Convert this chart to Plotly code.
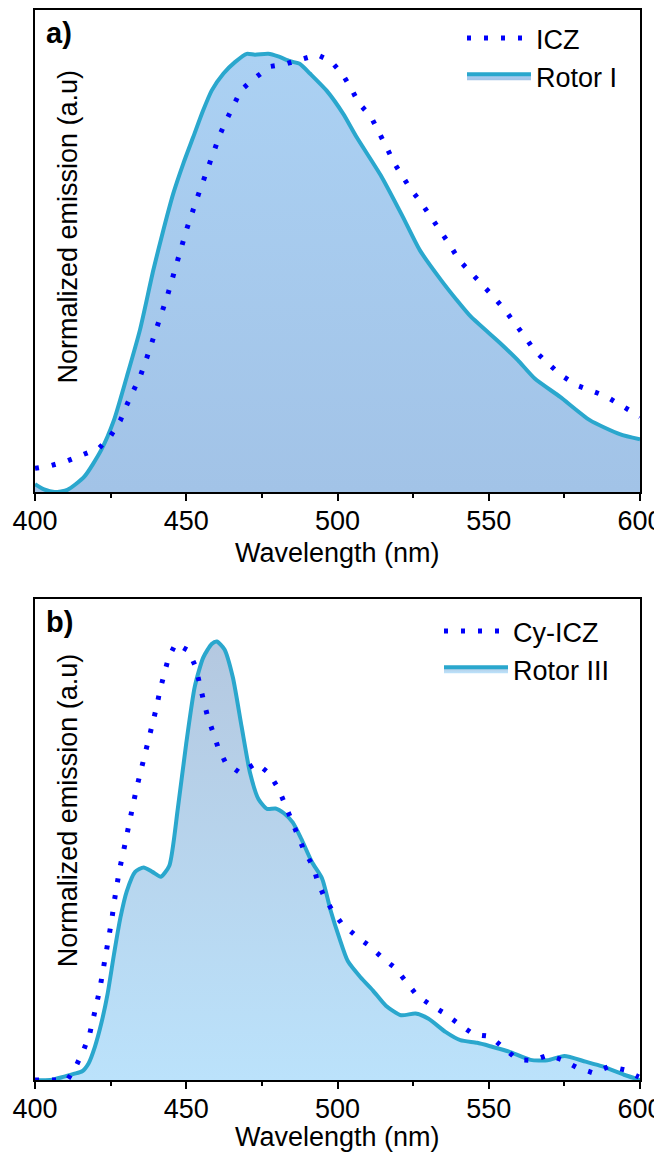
import plotly.graph_objects as go

# ---------------- data ----------------
wl_rotor1 = [400, 403, 406.5, 410.7, 416.3, 421.9, 426.1, 430.3, 434.7, 439.1, 442.4, 445.7, 449.0,
             452.3, 455.6, 458.4, 462.3, 466.1, 470.0, 472.7, 477.1, 480.4, 484.3, 487.6, 490.9,
             496.4, 501.9, 506.3, 514.6, 521.6, 527.2, 534.3, 539.2, 544.1, 553.9, 559.6, 565.2,
             573.6, 583.4, 593.3, 600]
em_rotor1 = [0.018, 0.006, 0.0, 0.005, 0.035, 0.096, 0.164, 0.262, 0.37, 0.506, 0.597, 0.681, 0.749,
             0.81, 0.871, 0.916, 0.955, 0.981, 1.0, 0.998, 1.0, 0.994, 0.983, 0.977, 0.955,
             0.916, 0.863, 0.81, 0.719, 0.628, 0.552, 0.483, 0.44, 0.40, 0.339, 0.301, 0.259,
             0.217, 0.164, 0.132, 0.12]

wl_icz = [400, 405.1, 410.7, 416.3, 421.2, 425, 428.2, 430.3, 432.7, 435, 436.9, 438.8, 440.4, 443.9,
          446.8, 450.1, 453.7, 457.3, 461.2, 463.5, 465.9, 468.1, 472.2, 477.7, 482.9, 487.9, 493.3,
          497.9, 501.7, 504.5, 507.0, 511.1, 513.9, 516.4, 518.8, 521.3, 524.2, 527.7, 531, 534.3,
          537.4, 540.2, 544.1, 548, 551.4, 555.6, 558.8, 562.4, 565.2, 569.4, 573.6, 578.9, 584.1,
          588.6, 593.7, 598.9, 600]
em_icz = [0.054, 0.06, 0.071, 0.087, 0.10, 0.128, 0.163, 0.198, 0.234, 0.268, 0.305, 0.341, 0.378, 0.451,
          0.525, 0.599, 0.673, 0.746, 0.817, 0.852, 0.888, 0.917, 0.942, 0.971, 0.977, 0.987, 0.998,
          0.983, 0.953, 0.921, 0.888, 0.856, 0.82, 0.784, 0.75, 0.721, 0.691, 0.66, 0.626, 0.596,
          0.561, 0.529, 0.501, 0.472, 0.447, 0.413, 0.385, 0.35, 0.322, 0.296, 0.268, 0.244, 0.231,
          0.219, 0.198, 0.176, 0.172]

wl_rotor3 = [400, 405.1, 409.3, 412.8, 415.6, 417.7, 419.8, 421.9, 424, 426.1, 428.2, 430.3, 433.1,
             435.9, 438.8, 441.6, 444.4, 447.2, 450, 452.8, 455.6, 458.4, 460.1, 462.6, 465.4, 468.3,
             471.1, 473.9, 476.7, 479.5, 482.3, 485.2, 488, 491.5, 494.9, 497.8, 500.6, 503.4, 507.6,
             511.8, 516, 521, 525.8, 530.1, 535.7, 540.6, 546.2, 551.1, 556.7, 563.8, 569.4, 575,
             582, 587.6, 594.7, 600]
em_rotor3 = [0.0, 0.0, 0.007, 0.014, 0.02, 0.038, 0.076, 0.129, 0.197, 0.287, 0.37, 0.431, 0.476,
             0.486, 0.476, 0.465, 0.49, 0.62, 0.77, 0.899, 0.966, 0.997, 1.003, 0.985, 0.921, 0.808,
             0.702, 0.642, 0.62, 0.621, 0.61, 0.589, 0.552, 0.499, 0.461, 0.386, 0.325, 0.272, 0.235,
             0.204, 0.17, 0.148, 0.152, 0.14, 0.11, 0.091, 0.085, 0.076, 0.065, 0.046, 0.045, 0.055,
             0.042, 0.031, 0.012, 0.0]

wl_cyicz = [400, 410.7, 413.5, 416, 418, 419.4, 420.5, 421.6, 422.6, 423.6, 424.4, 425.4, 426.1, 426.9,
            427.9, 429.1, 430.1, 431.3, 432.4, 433.6, 435, 436.2, 437.6, 438.8, 440.2, 441.3, 442.7,
            444.1, 446.5, 450.7, 453.1, 454.2, 455.6, 457, 458.7, 460.5, 462.9, 467.8, 473.2, 477.4,
            480.5, 482.6, 484.8, 486.8, 489, 491.9, 493.5, 495.6, 498.4, 501.5, 506.2, 510.7, 514.9,
            519.1, 522.6, 526.3, 531.2, 535.7, 540.3, 545.1, 550.4, 554.6, 559.6, 564.5, 569.7, 574.4,
            579, 584.6, 589.8, 595, 599.6]
em_cyicz = [0.0, 0.0, 0.031, 0.067, 0.103, 0.14, 0.178, 0.215, 0.253, 0.29, 0.329, 0.367, 0.404, 0.442,
            0.48, 0.518, 0.555, 0.592, 0.629, 0.668, 0.706, 0.742, 0.779, 0.817, 0.853, 0.891, 0.929,
            0.965, 0.998, 0.982, 0.945, 0.908, 0.871, 0.833, 0.797, 0.761, 0.727, 0.702, 0.725, 0.701,
            0.666, 0.631, 0.597, 0.559, 0.524, 0.489, 0.453, 0.419, 0.386, 0.357, 0.329, 0.306, 0.279,
            0.256, 0.226, 0.193, 0.17, 0.151, 0.127, 0.104, 0.1, 0.076, 0.046, 0.045, 0.057, 0.046,
            0.029, 0.016, 0.031, 0.023, 0.007]

x_ticks = [400, 450, 500, 550, 600]
x_tick_labels = ["400", "450", "500", "550", "600"]
x_title = "Wavelength (nm)"
y_title = "Normalized emission (a.u)"

# ---------------- styles ----------------
FONT = "Liberation Sans, Arial, sans-serif"
LINE_C = "rgb(42,167,205)"
DOT_C = "rgb(0,0,250)"
FS = 27

# page has an 8px body margin; keep the figure inside the window (no scrollbars)
OFF = 8
W, H = 662 - OFF, 1160 - 2 * OFF


def px(xp):
    return (xp - OFF) / W


def py(yp):
    return 1 - (yp - OFF) / H


fig = go.Figure()

# Panel a
fig.add_trace(go.Scatter(
    x=wl_rotor1, y=em_rotor1, name="Rotor I", mode="lines",
    line=dict(color=LINE_C, width=4, shape="spline", smoothing=0.6),
    fill="tozeroy",
    fillgradient=dict(type="vertical",
                      colorscale=[[0, "rgb(162,195,231)"], [1, "rgb(171,209,243)"]]),
    xaxis="x", yaxis="y", legend="legend"))
fig.add_trace(go.Scatter(
    x=wl_icz, y=em_icz, name="ICZ", mode="lines",
    line=dict(color=DOT_C, width=5, dash="4px,13px"),
    xaxis="x", yaxis="y", legend="legend"))

# Panel b
fig.add_trace(go.Scatter(
    x=wl_rotor3, y=em_rotor3, name="Rotor III", mode="lines",
    line=dict(color=LINE_C, width=4, shape="spline", smoothing=0.6),
    fill="tozeroy",
    fillgradient=dict(type="vertical",
                      colorscale=[[0, "rgb(187,226,251)"], [1, "rgb(180,200,224)"]]),
    xaxis="x2", yaxis="y2", legend="legend2"))
fig.add_trace(go.Scatter(
    x=wl_cyicz, y=em_cyicz, name="Cy-ICZ", mode="lines",
    line=dict(color=DOT_C, width=5, dash="4px,13px"),
    xaxis="x2", yaxis="y2", legend="legend2"))

xdom = [px(35), px(640)]
xa = dict(domain=xdom, range=[400, 600], tickmode="array", tickvals=x_ticks, ticktext=x_tick_labels,
          ticks="outside", ticklen=7, tickwidth=1.5, tickcolor="black", ticklabelstandoff=-3,
          minor=dict(dtick=25, ticks="outside", ticklen=4, tickwidth=1.5, tickcolor="black"),
          showline=True, linecolor="black", linewidth=2, mirror=True,
          showgrid=False, zeroline=False, automargin=False, ticklabeloverflow="allow",
          tickfont=dict(family=FONT, size=FS, color="black"))
ya = dict(range=[0, 1.1], showticklabels=False, ticks="", showline=True, linecolor="black",
          linewidth=2, mirror=True, showgrid=False, zeroline=False, automargin=False)

fig.update_layout(
    width=W, height=H, margin=dict(l=0, r=0, t=0, b=0, autoexpand=False),
    paper_bgcolor="white", plot_bgcolor="white",
    xaxis=dict(**xa, anchor="y"),
    yaxis=dict(**ya, domain=[py(492), py(10)], anchor="x"),
    xaxis2=dict(**xa, anchor="y2"),
    yaxis2=dict(**ya, domain=[py(1080), py(599)], anchor="x2"),
    legend=dict(x=px(462), y=py(14), xanchor="left", yanchor="top",
                traceorder="reversed", font=dict(family=FONT, size=FS, color="black"),
                bgcolor="rgba(0,0,0,0)", itemwidth=64, tracegroupgap=0),
    legend2=dict(x=px(439), y=py(607), xanchor="left", yanchor="top",
                 traceorder="reversed", font=dict(family=FONT, size=FS, color="black"),
                 bgcolor="rgba(0,0,0,0)", itemwidth=64, tracegroupgap=0),
    showlegend=True,
)

# axis titles (x) as annotations for exact placement
for yc in (553, 1137):
    fig.add_annotation(x=(px(35) + px(640)) / 2, y=py(yc), xref="paper", yref="paper", text=x_title,
                       showarrow=False, xanchor="center", yanchor="middle",
                       font=dict(family=FONT, size=27, color="black"))

for xr, yr, lab in [("x domain", "y domain", "a)"), ("x2 domain", "y2 domain", "b)")]:
    fig.add_annotation(x=0.015, y=0.99, xref=xr, yref=yr, text="<b>" + lab + "</b>", showarrow=False,
                       xanchor="left", yanchor="top", font=dict(family=FONT, size=29, color="black"))

fig.add_annotation(x=0.054, y=0.55, xref="x domain", yref="y domain", text=y_title,
                   textangle=-90, showarrow=False, xanchor="center", yanchor="middle",
                   font=dict(family=FONT, size=FS, color="black"))
fig.add_annotation(x=0.054, y=0.56, xref="x2 domain", yref="y2 domain", text=y_title,
                   textangle=-90, showarrow=False, xanchor="center", yanchor="middle",
                   font=dict(family=FONT, size=FS, color="black"))

fig.write_html("out.html")
